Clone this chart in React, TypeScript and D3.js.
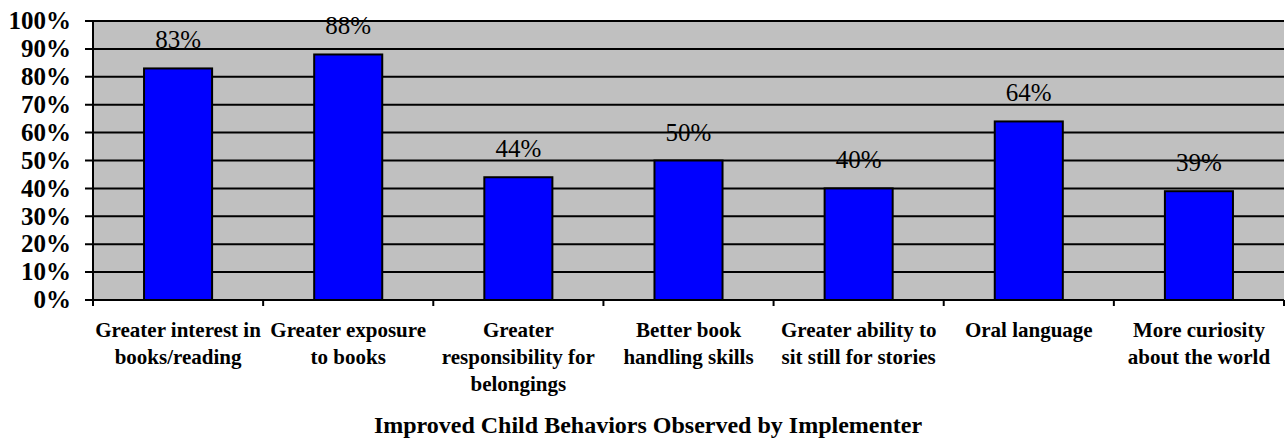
import React from "react";
import * as d3 from "d3";

const categories: string[][] = [
  ["Greater interest in", "books/reading"],
  ["Greater exposure", "to books"],
  ["Greater", "responsibility for", "belongings"],
  ["Better book", "handling skills"],
  ["Greater ability to", "sit still for stories"],
  ["Oral language"],
  ["More curiosity", "about the world"],
];
const values: number[] = [83, 88, 44, 50, 40, 64, 39];
const yTicks: number[] = [0, 10, 20, 30, 40, 50, 60, 70, 80, 90, 100];
const title = "Improved Child Behaviors Observed by Implementer";

const W = 1286;
const H = 443;
const left = 93;
const right = 1284;
const top = 21;
const bottom = 300;
const font = "'Liberation Serif', 'Times New Roman', serif";

export default function App() {
  const idx = categories.map((_, i) => String(i));
  const x = d3.scaleBand<string>().domain(idx).range([left, right]).paddingInner(0.6).paddingOuter(0.3);
  const xc = d3.scaleBand<string>().domain(idx).range([left, right]);
  const y = d3.scaleLinear().domain([0, 100]).range([bottom, top]);

  return (
    <svg width={W} height={H} style={{ position: "absolute", left: 0, top: 0 }} fontFamily={font}>
      <rect x={left} y={top} width={right - left} height={bottom - top} fill="#C0C0C0" />
      {yTicks.map((t) => (
        <line key={"g" + t} x1={left - 8} x2={right} y1={y(t)} y2={y(t)} stroke="#000" strokeWidth={2} />
      ))}
      <line x1={left} x2={left} y1={top} y2={bottom} stroke="#000" strokeWidth={2} />
      {idx.map((k, i) => (
        <line key={"t" + k} x1={left + xc.bandwidth() * (i + 1)} x2={left + xc.bandwidth() * (i + 1)} y1={bottom} y2={bottom + 6} stroke="#000" strokeWidth={2} />
      ))}
      <line x1={left} x2={left} y1={bottom} y2={bottom + 6} stroke="#000" strokeWidth={2} />
      {values.map((v, i) => (
        <rect key={"b" + i} x={x(String(i))!} y={y(v)} width={x.bandwidth()} height={bottom - y(v)} fill="#0000FF" stroke="#000" strokeWidth={2} />
      ))}
      {values.map((v, i) => (
        <text key={"v" + i} x={x(String(i))! + x.bandwidth() / 2} y={y(v) - 20} textAnchor="middle" fontSize={25} fill="#000">
          {v}%
        </text>
      ))}
      {yTicks.map((t) => (
        <text key={"y" + t} x={71} y={y(t)} dy="0.33em" textAnchor="end" fontSize={25} fontWeight="bold" fill="#000">
          {t}%
        </text>
      ))}
      {categories.map((lines, i) => (
        <text key={"c" + i} textAnchor="middle" fontSize={21} fontWeight="bold" fill="#000">
          {lines.map((l, j) => (
            <tspan key={j} x={xc(String(i))! + xc.bandwidth() / 2} y={337 + j * 27}>
              {l}
            </tspan>
          ))}
        </text>
      ))}
      <text x={648} y={433} textAnchor="middle" fontSize={24} fontWeight="bold" fill="#000">
        {title}
      </text>
    </svg>
  );
}
